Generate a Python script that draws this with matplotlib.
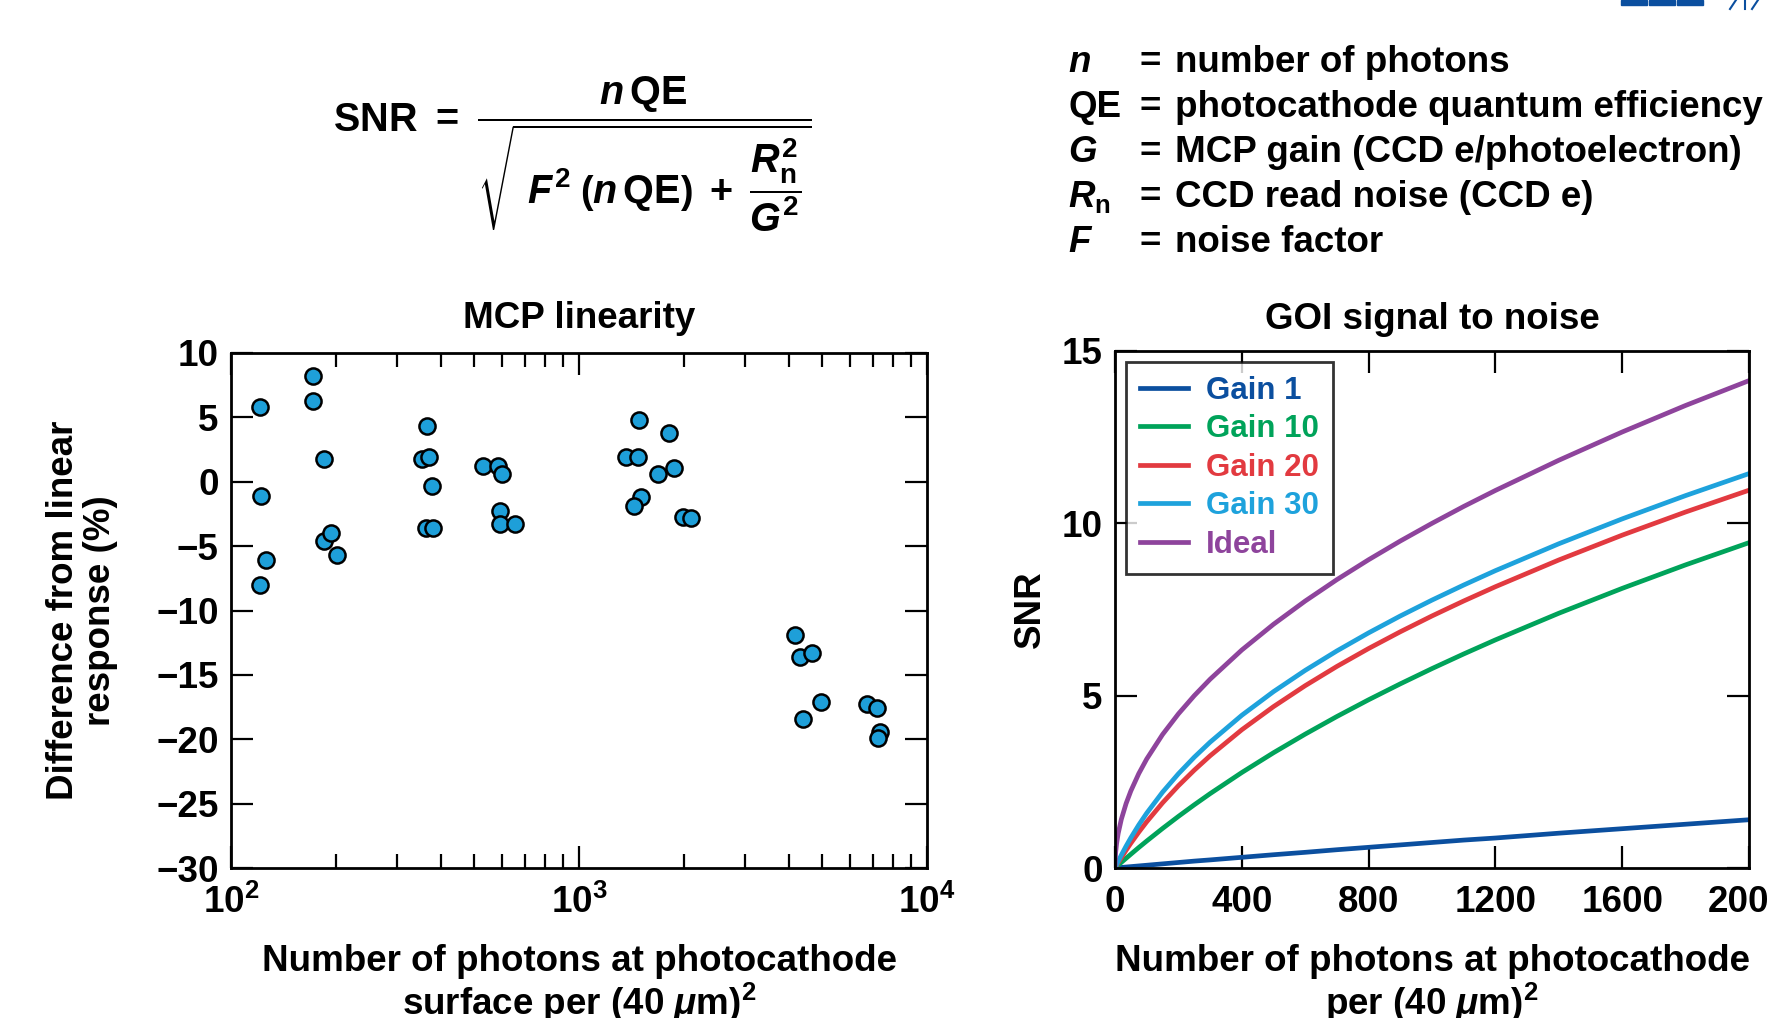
import numpy as np
import matplotlib
matplotlib.use('Agg')
import matplotlib.pyplot as plt
from matplotlib.patches import Rectangle

plt.rcParams['font.family'] = ['Liberation Sans', 'DejaVu Sans']
plt.rcParams['font.weight'] = 'bold'
plt.rcParams['mathtext.fontset'] = 'custom'
plt.rcParams['mathtext.rm'] = 'Liberation Sans:bold'
plt.rcParams['mathtext.it'] = 'Liberation Sans:bold:italic'
plt.rcParams['mathtext.bf'] = 'Liberation Sans:bold'
plt.rcParams['axes.unicode_minus'] = True

# MCP linearity measurements: photons per (40 um)^2 vs deviation from linear (%)
photons = [121, 122, 126, 121, 172, 172, 185, 185, 194, 202,
           365, 355, 370, 378, 364, 381,
           530, 585, 602, 591, 591, 654,
           1367, 1479, 1488, 1813, 1690, 1879, 1510, 1439, 1996, 2097,
           4188, 4305, 4687, 4392, 4963, 6720, 7160, 7317, 7227]
diff_pct = [5.8, -1.1, -6.1, -8.0, 8.2, 6.3, 1.75, -4.6, -4.0, -5.7,
            4.3, 1.8, 1.9, -0.3, -3.6, -3.6,
            1.2, 1.2, 0.6, -2.25, -3.3, -3.25,
            1.9, 1.9, 4.8, 3.8, 0.6, 1.1, -1.2, -1.9, -2.7, -2.8,
            -11.9, -13.6, -13.3, -18.4, -17.1, -17.3, -17.6, -19.4, -19.9]

# GOI signal to noise curves
n_photons = [0, 2, 5, 10, 20, 35, 50, 75, 100, 150, 200, 250, 300, 400, 500,
             600, 700, 800, 900, 1000, 1100, 1200, 1400, 1600, 1800, 2000]
snr_gain1 = [0, 0.0016, 0.004, 0.008, 0.016, 0.028, 0.04, 0.06, 0.08, 0.12, 0.16, 0.20, 0.235,
             0.31, 0.385, 0.455, 0.53, 0.60, 0.67, 0.74, 0.81, 0.87, 1.01, 1.14, 1.27, 1.40]
snr_gain10 = [0, 0.016, 0.041, 0.082, 0.163, 0.282, 0.40, 0.594, 0.782, 1.147, 1.497, 1.833, 2.157,
              2.77, 3.344, 3.884, 4.396, 4.881, 5.343, 5.786, 6.21, 6.618, 7.391, 8.113, 8.795, 9.439]
snr_gain20 = [0, 0.031, 0.077, 0.153, 0.301, 0.515, 0.719, 1.04, 1.34, 1.89, 2.386, 2.838, 3.256,
              4.011, 4.682, 5.29, 5.849, 6.368, 6.854, 7.313, 7.747, 8.161, 8.937, 9.657, 10.329, 10.961]
snr_gain30 = [0, 0.039, 0.098, 0.193, 0.376, 0.635, 0.877, 1.25, 1.591, 2.20, 2.734, 3.214, 3.651,
              4.431, 5.117, 5.734, 6.299, 6.822, 7.312, 7.773, 8.21, 8.627, 9.407, 10.129, 10.805, 11.443]
snr_ideal = [0, 0.447, 0.707, 1.0, 1.414, 1.871, 2.236, 2.739, 3.162, 3.873, 4.472, 5.0, 5.477,
             6.325, 7.071, 7.746, 8.367, 8.944, 9.487, 10.0, 10.49, 10.954, 11.83, 12.65, 13.42, 14.14]

curves = [('Gain 1', snr_gain1, '#0b4f9f'),
          ('Gain 10', snr_gain10, '#00a35a'),
          ('Gain 20', snr_gain20, '#e23a40'),
          ('Gain 30', snr_gain30, '#1ea2dc'),
          ('Ideal', snr_ideal, '#8e449c')]

definitions = [(r'$n$', 'number of photons'),
               ('QE', 'photocathode quantum efficiency'),
               (r'$G$', 'MCP gain (CCD e/photoelectron)'),
               (r'$R_\mathrm{n}$', 'CCD read noise (CCD e)'),
               (r'$F$', 'noise factor')]

FS = 26.5

fig = plt.figure(figsize=(17.69, 10.18), dpi=100)
W, H = 1769, 1018


def px_axes(x0, y0, x1, y1):
    return fig.add_axes([x0 / W, 1 - y1 / H, (x1 - x0) / W, (y1 - y0) / H])


def style(ax):
    for s in ax.spines.values():
        s.set_linewidth(2.0)
    ax.tick_params(which='both', direction='in', top=True, right=True,
                   labelsize=FS, width=1.6)
    ax.tick_params(which='major', length=16)
    ax.tick_params(which='minor', length=10)
    ax.tick_params(axis='x', pad=12)
    ax.tick_params(axis='y', pad=9)


# left: MCP linearity
ax1 = px_axes(231, 353, 927, 868)
ax1.set_xscale('log')
ax1.set_xlim(100, 10000)
ax1.set_ylim(-30, 10)
ax1.set_xticks([100, 1000, 10000])
ax1.set_xticklabels([r'$10^2$', r'$10^3$', r'$10^4$'])
ax1.set_yticks(np.arange(-30, 11, 5))
style(ax1)
ax1.scatter(photons, diff_pct, s=135, color='#1e9fd9', edgecolor='black',
            linewidth=1.8, zorder=3)
ax1.set_title('MCP linearity', fontsize=FS, fontweight='bold', pad=18)
ax1.set_xlabel('Number of photons at photocathode\nsurface per (40 $\\mu$m)$^2$',
               fontsize=FS, fontweight='bold', linespacing=1.05)
ax1.xaxis.set_label_coords(0.5, -0.147)
ax1.set_ylabel('Difference from linear\nresponse (%)', fontsize=FS,
               fontweight='bold', linespacing=1.05, va='center')
ax1.yaxis.set_label_coords(-0.214, 0.5)

# right: GOI signal to noise
ax2 = px_axes(1115, 351, 1749, 868)
ax2.set_xlim(0, 2000)
ax2.set_ylim(0, 15)
ax2.set_xticks(np.arange(0, 2001, 400))
ax2.set_yticks([0, 5, 10, 15])
style(ax2)
for label, vals, c in curves:
    ax2.plot(n_photons, vals, color=c, linewidth=3.4, label=label,
             solid_joinstyle='round')
leg = ax2.legend(loc='upper left', bbox_to_anchor=(0.0174, 0.979),
                 borderaxespad=0, fontsize=22.5, labelcolor='linecolor',
                 fancybox=False, edgecolor='black', handlelength=1.54,
                 handletextpad=0.58, labelspacing=0.27, borderpad=0.45)
leg.get_frame().set_linewidth(2.0)
for t in leg.get_texts():
    t.set_fontweight('bold')
ax2.set_title('GOI signal to noise', fontsize=FS, fontweight='bold', pad=16)
ax2.set_xlabel('Number of photons at photocathode\nper (40 $\\mu$m)$^2$',
               fontsize=FS, fontweight='bold', linespacing=1.05)
ax2.xaxis.set_label_coords(0.5, -0.147)
ax2.set_ylabel('SNR', fontsize=FS, fontweight='bold', va='center')
ax2.yaxis.set_label_coords(-0.134, 0.5)

# SNR formula
formula = (r'$\mathrm{SNR}\ =\ \dfrac{n\,\mathrm{QE}}'
           r'{\sqrt{\;F^2\;\left(n\,\mathrm{QE}\right)\;+\;\dfrac{R_\mathrm{n}^2}{G^2}}}$')
fig.text(333 / W, 1 - 154 / H, formula, fontsize=28.5, ha='left', va='center')

# symbol definitions
for i, (sym, desc) in enumerate(definitions):
    yb = 1 - (72 + 45 * i) / H
    fig.text(1068 / W, yb, sym, fontsize=FS, fontweight='bold', va='baseline')
    fig.text(1150 / W, yb, '=', fontsize=FS, fontweight='bold', va='baseline', ha='center')
    fig.text(1175 / W, yb, desc, fontsize=FS, fontweight='bold', va='baseline')

# logo fragment in the corner
for x0 in (1621, 1649, 1677):
    fig.patches.append(Rectangle((x0 / W, 1 - 5 / H), 26 / W, 5 / H,
                                 transform=fig.transFigure, color='#0b4f9f'))
for xa, xb in ((1730, 1736), (1745, 1745), (1752, 1758)):
    fig.lines.append(plt.Line2D([xa / W, xb / W], [1 - 9 / H, 1], transform=fig.transFigure,
                                color='#0b4f9f', linewidth=1.5))

fig.savefig('out.png', dpi=100)
